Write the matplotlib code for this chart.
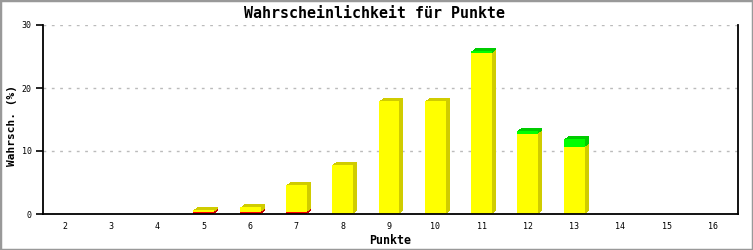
import matplotlib
matplotlib.use("Agg")
import matplotlib.pyplot as plt
from matplotlib.transforms import ScaledTranslation
from matplotlib.patches import Rectangle

# data: sum of points vs. probability (%), stacked in three parts
punkte = [2, 3, 4, 5, 6, 7, 8, 9, 10, 11, 12, 13, 14, 15, 16]
rot = [0, 0, 0, 0.3, 0.3, 0.3, 0, 0, 0, 0, 0, 0, 0, 0, 0]
gelb = [0, 0, 0, 0.3, 0.75, 4.3, 7.8, 17.9, 17.9, 25.5, 12.7, 10.6, 0, 0, 0]
gruen = [0, 0, 0, 0, 0, 0, 0, 0, 0, 0.3, 0.5, 1.3, 0, 0, 0]

fig = plt.figure(figsize=(7.53, 2.5), dpi=100)
ax = fig.add_axes([43 / 753, 36 / 250, 695 / 753, 189 / 250])

mono = "DejaVu Sans Mono"
width = 0.45

segments = [
    (rot, [0] * len(punkte), "#ff0000", "#c80000"),
    (gelb, rot, "#ffff00", "#d0cc00"),
    (gruen, [r + g for r, g in zip(rot, gelb)], "#00ff00", "#00cc00"),
]

# shaded depth (side and top faces), built as a small staircase of offsets
steps = [(1, 0.75), (2, 1.5), (3, 2.25), (4, 3)]
for vals, base, front, side in segments:
    for dx, dy in steps:
        shift = ScaledTranslation(dx / 100, dy / 100, fig.dpi_scale_trans)
        ax.bar(punkte, vals, width, bottom=base, color=side, linewidth=0,
               transform=ax.transData + shift, zorder=2)
for vals, base, front, side in segments:
    ax.bar(punkte, vals, width, bottom=base, color=front, linewidth=0, zorder=3)

ax.set_xlim(1.525, 16.54)
ax.set_ylim(0, 30)
ax.set_yticks([0, 10, 20, 30])
ax.set_xticks(punkte)
ax.tick_params(axis="x", length=0, pad=6, labelsize=6)
ax.tick_params(axis="y", length=5, width=1.2, pad=3, labelsize=6)
for lab in ax.get_xticklabels() + ax.get_yticklabels():
    lab.set_family(mono)

ax.grid(axis="y", color="#bbbbbb", linestyle=(0, (2, 4)), linewidth=1)
ax.set_axisbelow(True)
ax.spines["top"].set_visible(False)
for s in ["left", "bottom", "right"]:
    ax.spines[s].set_linewidth(1.3)
    ax.spines[s].set_color("black")
    ax.spines[s].set_zorder(4)

fig.text(375 / 753, 1 - 13 / 250, "Wahrscheinlichkeit für Punkte", family=mono,
         fontsize=10.8, fontweight="bold", ha="center", va="center")
fig.text(390 / 753, 1 - 240 / 250, "Punkte", family=mono, fontsize=8.4,
         fontweight="bold", ha="center", va="center")
fig.text(12 / 753, 1 - 126 / 250, "Wahrsch. (%)", family=mono, fontsize=8,
         fontweight="bold", ha="center", va="center", rotation=90)

fig.patches.append(Rectangle((0, 0), 1, 1, transform=fig.transFigure,
                             fill=False, edgecolor="#999999", linewidth=2.5))

fig.savefig("out.png", dpi=100)
